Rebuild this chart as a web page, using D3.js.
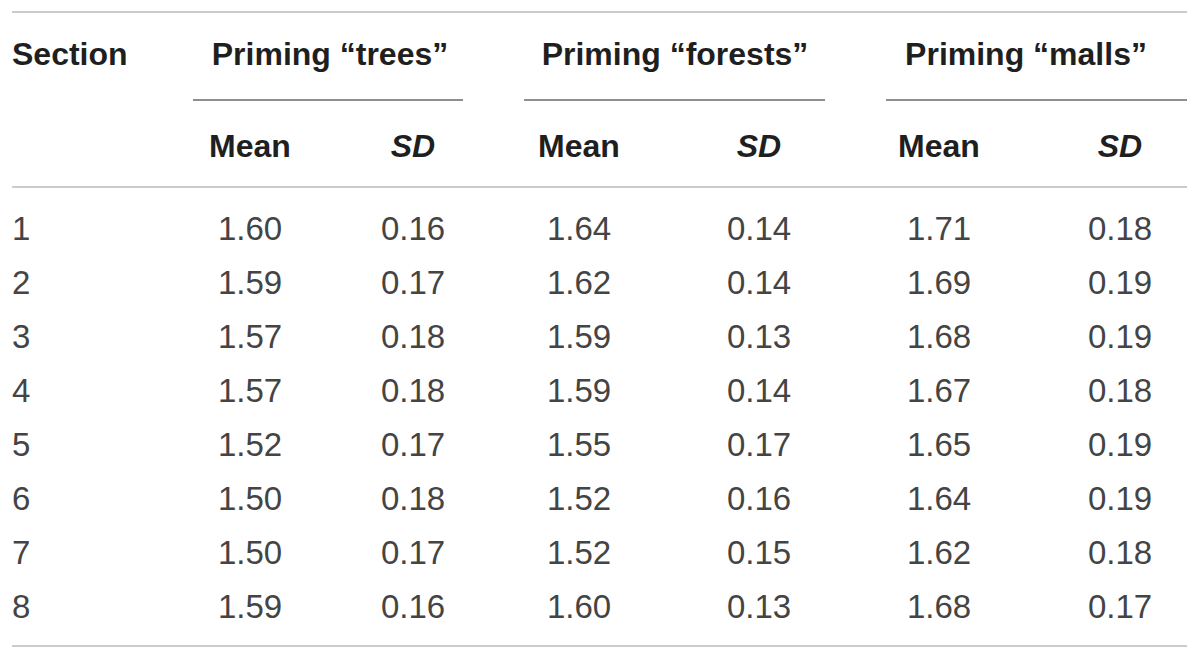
<!DOCTYPE html>
<html lang="en">
<head>
    <meta charset="UTF-8">
    <title>Priming table</title>
    <script src="https://d3js.org/d3.v7.min.js"></script>
    <style>
        body {
            margin: 0;
            background-color: #ffffff;
        }
        text {
            font-family: "Liberation Sans", Arial, Helvetica, sans-serif;
        }
        .head {
            font-size: 32px;
            font-weight: bold;
            fill: #1f1f1f;
        }
        .cell {
            font-size: 33px;
            fill: #444444;
        }
    </style>
</head>
<body>
    <svg id="chart" width="1200" height="659"></svg>
    <script>
        const width = 1200;
        const height = 659;

        // Data
        const sections = ["1", "2", "3", "4", "5", "6", "7", "8"];
        const groups = ["Priming \u201ctrees\u201d", "Priming \u201cforests\u201d", "Priming \u201cmalls\u201d"];
        const subHeads = ["Mean", "SD"];
        const treesMean = [1.60, 1.59, 1.57, 1.57, 1.52, 1.50, 1.50, 1.59];
        const treesSD = [0.16, 0.17, 0.18, 0.18, 0.17, 0.18, 0.17, 0.16];
        const forestsMean = [1.64, 1.62, 1.59, 1.59, 1.55, 1.52, 1.52, 1.60];
        const forestsSD = [0.14, 0.14, 0.13, 0.14, 0.17, 0.16, 0.15, 0.13];
        const mallsMean = [1.71, 1.69, 1.68, 1.67, 1.65, 1.64, 1.62, 1.68];
        const mallsSD = [0.18, 0.19, 0.19, 0.18, 0.19, 0.19, 0.18, 0.17];

        const columns = [treesMean, treesSD, forestsMean, forestsSD, mallsMean, mallsSD];

        const svg = d3.select("#chart")
            .attr("width", width)
            .attr("height", height);

        // layout
        const left = 12, right = 1187;
        const colX = [250, 413, 579, 759, 939, 1120];
        const groupX = [330, 675, 1026];
        const ruleSpan = [[193, 463], [524, 825], [886, 1187]];

        const y = d3.scalePoint()
            .domain(sections)
            .range([240, 618]);

        // horizontal rules
        const rules = [12, 187, 646];
        svg.selectAll("line.rule")
            .data(rules)
            .enter().append("line")
            .attr("class", "rule")
            .attr("x1", left)
            .attr("x2", right)
            .attr("y1", d => d)
            .attr("y2", d => d)
            .attr("stroke", "#cbcbcb")
            .attr("stroke-width", 2);

        // group underlines
        svg.selectAll("line.group")
            .data(ruleSpan)
            .enter().append("line")
            .attr("class", "group")
            .attr("x1", d => d[0])
            .attr("x2", d => d[1])
            .attr("y1", 100)
            .attr("y2", 100)
            .attr("stroke", "#8f8f8f")
            .attr("stroke-width", 2);

        // header row 1
        svg.append("text")
            .attr("class", "head")
            .attr("x", left)
            .attr("y", 65)
            .text("Section");

        svg.selectAll("text.group")
            .data(groups)
            .enter().append("text")
            .attr("class", "head group")
            .attr("x", (d, i) => groupX[i])
            .attr("y", 65)
            .attr("text-anchor", "middle")
            .text(d => d);

        // header row 2
        svg.selectAll("text.sub")
            .data(colX)
            .enter().append("text")
            .attr("class", "head sub")
            .attr("x", d => d)
            .attr("y", 157)
            .attr("text-anchor", "middle")
            .style("font-style", (d, i) => i % 2 ? "italic" : "normal")
            .text((d, i) => subHeads[i % 2]);

        // section labels
        svg.selectAll("text.sec")
            .data(sections)
            .enter().append("text")
            .attr("class", "cell sec")
            .attr("x", left)
            .attr("y", d => y(d))
            .text(d => d);

        // value cells
        columns.forEach((col, c) => {
            svg.selectAll("text.c" + c)
                .data(col)
                .enter().append("text")
                .attr("class", "cell c" + c)
                .attr("x", colX[c])
                .attr("y", (d, i) => y(sections[i]))
                .attr("text-anchor", "middle")
                .text(d => d.toFixed(2));
        });
    </script>
</body>
</html>
